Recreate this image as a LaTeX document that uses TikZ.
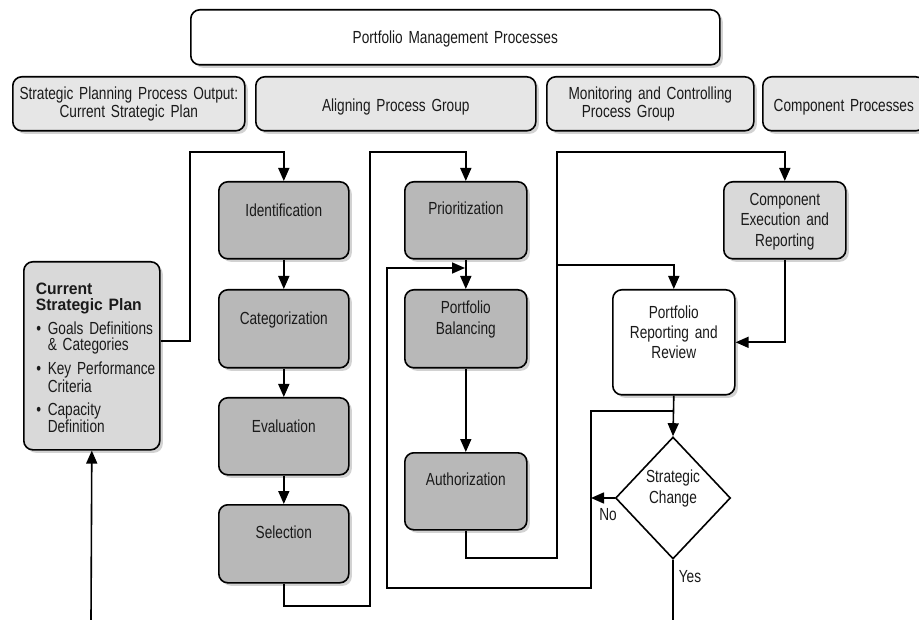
\documentclass[tikz,border=0pt]{standalone}
\usepackage{fontspec}
\setmainfont[FakeStretch=0.78]{Liberation Sans}
\newfontfamily\titlefont[FakeStretch=0.95]{Liberation Sans}
\usetikzlibrary{arrows.meta,shapes.geometric,shadows}
\definecolor{darkfill}{HTML}{B8B8B8}
\definecolor{lightfill}{HTML}{D9D9D9}
\definecolor{headfill}{HTML}{E6E6E6}
\definecolor{inkc}{HTML}{1A1A1A}
\tikzset{
  box/.style={draw=black, line width=1.6pt, rounded corners=9pt, inner xsep=0pt, inner ysep=0pt,
    anchor=north west, align=center, text=inkc, font=\fontsize{17.5}{20}\selectfont,
    drop shadow={shadow xshift=3pt, shadow yshift=-3pt, fill=black!35, opacity=0.5}},
  conn/.style={draw=black, line width=1.6pt},
  arr/.style={conn, -{Triangle[length=13pt,width=11pt]}},
  lbl/.style={text=inkc, font=\fontsize{17.5}{20}\selectfont, inner sep=0pt}
}
\begin{document}
\begin{tikzpicture}[x=1pt,y=-1pt]
\useasboundingbox (0,0) rectangle (919,620);
% waypoints
\coordinate (k1) at (190,152);
\coordinate (k2) at (370,606);
\coordinate (k3) at (370,152);
\coordinate (k4) at (557,558);
\coordinate (k5) at (557,152);
\coordinate (k6) at (557,265);
\coordinate (k7) at (673,411);
\coordinate (k8) at (591,588);
\coordinate (k9) at (387,268);
\coordinate (k10) at (465,268);
\coordinate (k11) at (591,498);
\coordinate (k12) at (673,620);
\coordinate (k13) at (91,620);
% header
\node[box, fill=white, text width=529pt, text height=33.5pt, text depth=21.5pt] (pmp) at (190,9) {Portfolio Management Processes};
\node[box, fill=headfill, text width=232pt, text height=22.5pt, text depth=31.5pt, font=\fontsize{17.5}{18}\selectfont] (hspo) at (12,76) {Strategic Planning Process Output:\\Current Strategic Plan};
\node[box, fill=headfill, text width=280pt, text height=34.5pt, text depth=19.5pt] (hapg) at (255,76) {Aligning Process Group};
\node[box, fill=headfill, text width=207pt, text height=22.5pt, text depth=31.5pt, font=\fontsize{17.5}{18}\selectfont] (hmcp) at (546,76) {Monitoring and Controlling\\Process Group\hspace*{44pt}};
\node[box, fill=headfill, text width=162pt, text height=34.5pt, text depth=19.5pt] (hcp) at (762,76) {Component Processes};
% current strategic plan
\node[box, fill=lightfill, text width=124pt, inner xsep=6pt, align=left, text height=32.5pt, text depth=155.5pt, font=\fontsize{17.5}{16}\selectfont] (csp) at (23,261)
{\hspace*{6pt}{\titlefont\bfseries\fontsize{16.5}{16}\selectfont Current}\\
 \hspace*{6pt}{\titlefont\bfseries\fontsize{16.5}{16}\selectfont Strategic Plan}\\[7pt]
 \makebox[18pt]{•}\mbox{Goals Definitions}\\
 \hspace*{18pt}\mbox{\& Categories}\\[7pt]
 \makebox[18pt]{•}\mbox{Key Performance}\\
 \hspace*{18pt}\mbox{Criteria}\\[7pt]
 \makebox[18pt]{•}\mbox{Capacity}\\
 \hspace*{18pt}\mbox{Definition}};
% aligning column 1
\node[box, fill=darkfill, text width=130pt, text height=34.5pt, text depth=42.5pt] (ident) at (218,181) {Identification};
\node[box, fill=darkfill, text width=130pt, text height=34.5pt, text depth=43.5pt] (categ) at (218,289) {Categorization};
\node[box, fill=darkfill, text width=130pt, text height=34.5pt, text depth=42.5pt] (eval) at (218,397) {Evaluation};
\node[box, fill=darkfill, text width=130pt, text height=34pt, text depth=44pt] (sel) at (218,504) {Selection};
% aligning column 2
\node[box, fill=darkfill, text width=122pt, text height=32.5pt, text depth=44.5pt] (prio) at (404,181) {Prioritization};
\node[box, fill=darkfill, text width=122pt, text height=23.5pt, text depth=54.5pt, font=\fontsize{17.5}{21}\selectfont] (bal) at (404,289) {Portfolio\\Balancing};
\node[box, fill=darkfill, text width=122pt, text height=32.5pt, text depth=44.5pt] (auth) at (404,452) {Authorization};
% monitoring and components
\node[box, fill=lightfill, text width=122pt, text height=23.5pt, text depth=53.5pt, font=\fontsize{17.5}{20.5}\selectfont] (comp) at (723,181) {Component\\Execution and\\Reporting};
\node[box, fill=white, text width=122pt, text height=28.5pt, text depth=76.5pt, font=\fontsize{17.5}{20}\selectfont] (prr) at (612,289) {Portfolio\\Reporting and\\Review};
\node[draw=black, line width=1.6pt, diamond, minimum width=115pt, minimum height=122pt, inner sep=0pt, fill=white,
  text width=56pt, align=center, text height=10pt, text depth=41pt, text=inkc, font=\fontsize{17.5}{21}\selectfont] (dia) at (673,498) {Strategic\\Change};
\node[lbl] (no) at (608,515) {No};
\node[lbl] (yes) at (690,577) {Yes};
% connectors
\draw[arr] (k13) -- (csp.south);
\draw[arr] ([yshift=15pt]csp.east) -| (k1) -| (ident.north);
\draw[arr] (ident.south) -- (categ.north);
\draw[arr] (categ.south) -- (eval.north);
\draw[arr] (eval.south) -- (sel.north);
\draw[arr] (sel.south) |- (k2) -- (k3) -| (prio.north);
\draw[arr] (prio.south) -- (bal.north);
\draw[arr] (bal.south) -- (auth.north);
\draw[arr] (auth.south) |- (k4) -- (k5) -| (comp.north);
\draw[arr] (k6) -| (prr.north);
\draw[arr] (comp.south) |- (prr.east);
\draw[arr] (prr.south) -- (dia.north);
\draw[arr] (k7) -| (k8) -| (k9) -- (k10);
\draw[arr] (dia.west) -- (k11);
\draw[conn] (dia.south) -- (k12);
\end{tikzpicture}
\end{document}
